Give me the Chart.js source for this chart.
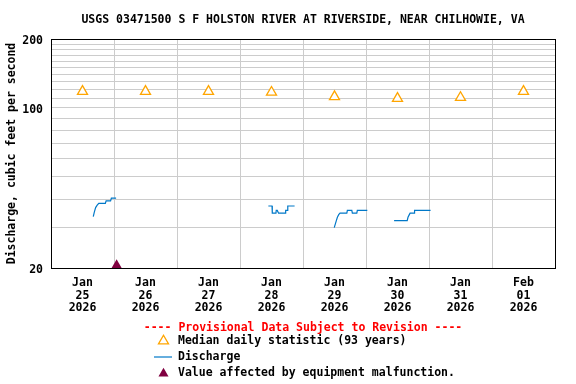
<!DOCTYPE html>
<html>
<head>
<meta charset="utf-8">
<script src="https://cdn.jsdelivr.net/npm/chart.js@4.4.1/dist/chart.umd.min.js"></script>
<style>
  body { margin: 0; background: #fff; }
</style>
</head>
<body>
<canvas id="usgs-chart" width="576" height="384"></canvas>
<script>
// x values are hours since Jan 25 2026 00:00
const dayMonths = ["Jan", "Jan", "Jan", "Jan", "Jan", "Jan", "Jan", "Feb"];
const dayNumbers = ["25", "26", "27", "28", "29", "30", "31", "01"];
const dayYears = ["2026", "2026", "2026", "2026", "2026", "2026", "2026", "2026"];

const medianHours = [12, 36, 60, 84, 108, 132, 156, 180];
const medianValues = [118, 118, 118, 117, 112, 110, 111, 118];

// null breaks the line where there is no record
const dischargeHours = [
  16.1, 16.5, 17.0, 17.6, 18.2, 20.7, 21.0, 22.7, 23.0, 24.8,
  50,
  82.8, 84.2, 84.3, 85.7, 85.8, 86.2, 86.7, 89.3, 89.4, 90.0, 90.2, 92.8,
  100,
  107.9, 108.3, 108.7, 109.1, 109.6, 110.1, 112.7, 112.9, 114.6, 114.8, 116.5, 116.7, 120.5,
  125,
  130.7, 135.7, 136.0, 136.5, 136.8, 138.3, 138.5, 144.6,
];
const dischargeValues = [
  33.5, 35.1, 36.7, 37.6, 38.3, 38.3, 39.3, 39.3, 40.4, 40.4,
  null,
  37.3, 37.3, 34.7, 34.7, 35.7, 35.7, 34.7, 34.7, 35.7, 35.7, 37.3, 37.3,
  null,
  30.0, 31.1, 32.2, 33.3, 34.2, 34.7, 34.7, 35.7, 35.7, 34.7, 34.7, 35.7, 35.7,
  null,
  32.2, 32.2, 33.3, 34.2, 34.7, 34.7, 35.7, 35.7,
];

const malfunctionHours = [25.0];
const malfunctionValues = [20.6];

const xTickHours = [0, 12, 24, 36, 48, 60, 72, 84, 96, 108, 120, 132, 144, 156, 168, 180, 192];
const yTickValues = [20, 30, 40, 50, 60, 70, 80, 90, 100, 110, 120, 130, 140, 150, 160, 170, 180, 190, 200];
const yLabelValues = [20, 100, 200];

const chartTitle = "USGS 03471500 S F HOLSTON RIVER AT RIVERSIDE, NEAR CHILHOWIE, VA";
const yAxisTitle = "Discharge, cubic feet per second";
const provisionalNote = "---- Provisional Data Subject to Revision ----";
const legendLabels = ["Median daily statistic (93 years)", "Discharge", "Value affected by equipment malfunction."];

const FONT_FAMILY = "'DejaVu Sans Mono', 'Liberation Mono', monospace";
const ORANGE = "#ffa500";
const BLUE = "#0078c8";
const MAROON = "#800040";
const GRID = "#cccccc";

function toPoints(xs, ys) {
  return xs.map((x, i) => ({ x: x, y: ys[i] }));
}

function drawTriangle(ctx, x, y, r, fill, stroke) {
  ctx.beginPath();
  ctx.moveTo(x, y - r);
  ctx.lineTo(x + Math.sin(2 * Math.PI / 3) * r, y + r / 2);
  ctx.lineTo(x - Math.sin(2 * Math.PI / 3) * r, y + r / 2);
  ctx.closePath();
  ctx.fillStyle = fill;
  ctx.fill();
  if (stroke) {
    ctx.lineWidth = 1.3;
    ctx.strokeStyle = stroke;
    ctx.stroke();
  }
}

const framePlugin = {
  id: "frame",
  beforeDatasetsDraw(chart) {
    const { ctx, chartArea } = chart;
    ctx.save();
    ctx.strokeStyle = "#000";
    ctx.lineWidth = 1;
    ctx.strokeRect(
      Math.round(chartArea.left) + 0.5,
      Math.round(chartArea.top) + 0.5,
      Math.round(chartArea.right - chartArea.left),
      Math.round(chartArea.bottom - chartArea.top)
    );
    ctx.restore();
  },
  afterDraw(chart) {
    const { ctx, chartArea } = chart;
    const center = (chartArea.left + chartArea.right) / 2;
    ctx.save();
    ctx.font = "bold 11.5px " + FONT_FAMILY;
    ctx.textBaseline = "middle";

    ctx.fillStyle = "#000";
    ctx.textAlign = "center";
    ctx.fillText(chartTitle, center, 20.5);

    ctx.fillStyle = "#ff0000";
    ctx.fillText(provisionalNote, center, 328);

    // legend
    ctx.textAlign = "left";
    ctx.fillStyle = "#000";
    ctx.fillText(legendLabels[0], 178, 341.5);
    ctx.fillText(legendLabels[1], 178, 357.5);
    ctx.fillText(legendLabels[2], 178, 373.5);

    drawTriangle(ctx, 163.5, 341, 5.8, "#fff", ORANGE);

    ctx.beginPath();
    ctx.moveTo(154, 357);
    ctx.lineTo(172, 357);
    ctx.lineWidth = 1.2;
    ctx.strokeStyle = BLUE;
    ctx.stroke();

    drawTriangle(ctx, 163.5, 373.5, 5.8, MAROON, null);
    ctx.restore();
  },
};

const tickFont = { family: FONT_FAMILY, size: 11.5, weight: "bold", lineHeight: 1.09 };

new Chart(document.getElementById("usgs-chart"), {
  type: "line",
  data: {
    datasets: [
      {
        label: "Discharge",
        data: toPoints(dischargeHours, dischargeValues),
        borderColor: BLUE,
        borderWidth: 1.2,
        pointRadius: 0,
        spanGaps: false,
        tension: 0,
        order: 3,
      },
      {
        label: "Median daily statistic (93 years)",
        data: toPoints(medianHours, medianValues),
        showLine: false,
        pointStyle: "triangle",
        pointRadius: 5.8,
        pointBorderWidth: 1.3,
        pointBorderColor: ORANGE,
        pointBackgroundColor: "#fff",
        order: 2,
      },
      {
        label: "Value affected by equipment malfunction.",
        data: toPoints(malfunctionHours, malfunctionValues),
        showLine: false,
        pointStyle: "triangle",
        pointRadius: 5.8,
        pointBorderWidth: 0,
        pointBackgroundColor: MAROON,
        clip: false,
        order: 1,
      },
    ],
  },
  options: {
    responsive: false,
    animation: false,
    events: [],
    layout: { padding: { top: 39, right: 21, left: 0, bottom: 0 } },
    plugins: {
      legend: { display: false },
      tooltip: { enabled: false },
    },
    scales: {
      x: {
        type: "linear",
        min: 0,
        max: 192,
        afterBuildTicks: (scale) => {
          scale.ticks = xTickHours.map((v) => ({ value: v }));
        },
        afterFit: (scale) => {
          scale.height = 116;
        },
        grid: {
          color: (ctx) => (ctx.tick && ctx.tick.value % 24 === 0 ? GRID : "rgba(0,0,0,0)"),
          lineWidth: 1,
          drawTicks: false,
        },
        border: { display: false },
        ticks: {
          autoSkip: false,
          maxRotation: 0,
          padding: 9,
          color: "#000",
          font: tickFont,
          callback: (value) => {
            if (value % 24 !== 12) return "";
            const i = (value - 12) / 24;
            return [dayMonths[i], dayNumbers[i], dayYears[i]];
          },
        },
      },
      y: {
        type: "logarithmic",
        min: 20,
        max: 200,
        afterBuildTicks: (scale) => {
          scale.ticks = yTickValues.map((v) => ({ value: v }));
        },
        afterFit: (scale) => {
          scale.width = 51;
        },
        grid: { color: GRID, lineWidth: 1, drawTicks: false },
        border: { display: false },
        ticks: {
          autoSkip: false,
          padding: 8,
          labelOffset: 2,
          color: "#000",
          font: tickFont,
          callback: (value) => (yLabelValues.includes(value) ? String(value) : ""),
        },
        title: {
          display: true,
          text: yAxisTitle,
          color: "#000",
          font: { family: FONT_FAMILY, size: 11.5, weight: "bold", lineHeight: 1.2 },
          padding: { top: 5, bottom: 0 },
        },
      },
    },
  },
  plugins: [framePlugin],
});
</script>
</body>
</html>
